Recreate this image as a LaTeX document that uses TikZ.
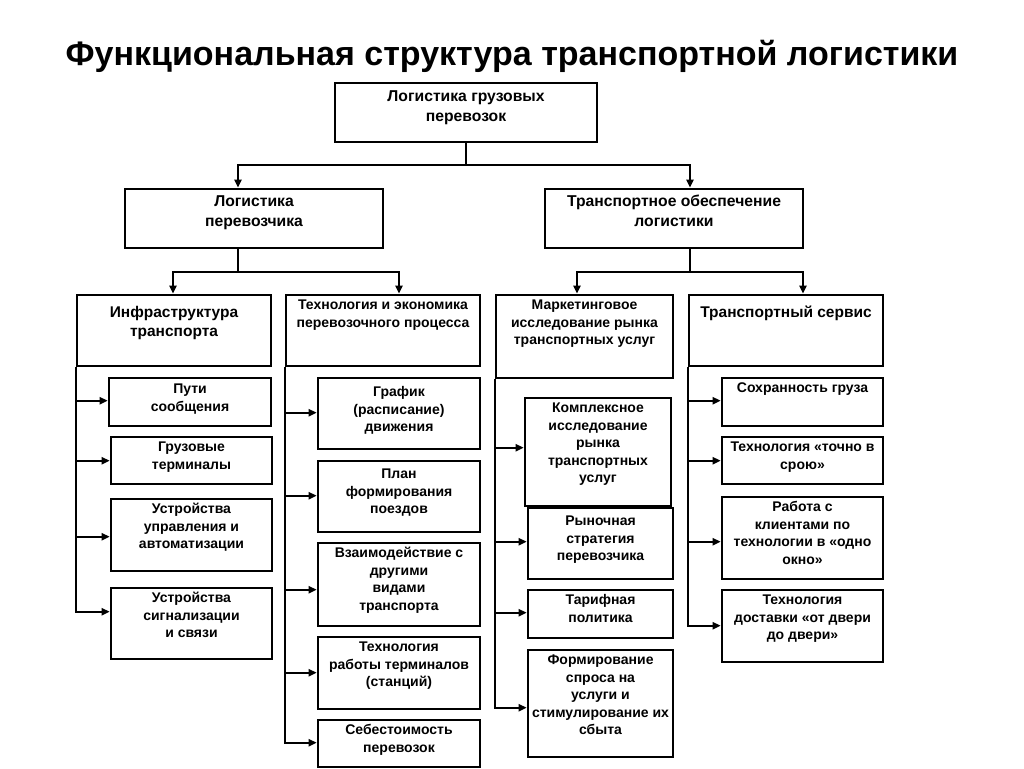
\documentclass[tikz,border=0pt]{standalone}
\usepackage{fontspec}
\setmainfont{Liberation Sans}
\usetikzlibrary{arrows.meta}
\tikzset{
  box/.style={draw, line width=2.6pt, rectangle, inner sep=0pt},
  lbl/.style={anchor=north, inner sep=0pt, align=center, font=\fontsize{14}{17.5}\selectfont\bfseries},
  lblbig/.style={font=\fontsize{15.7}{19.5}\selectfont\bfseries},
  lblmid/.style={font=\fontsize{15.5}{18.5}\selectfont\bfseries},
  conn/.style={line width=2pt},
  arr/.style={conn, -{Triangle[length=8pt,width=7pt]}},
}
% \bx[extra label opts]{name}{x1}{y1}{x2}{y2}{extra offset}{text}
\newcommand\bx[8][]{%
  \node[box, minimum width={(#5)-(#3)}, minimum height={(#6)-(#4)},
    label={[lbl,#1,yshift={-3.6pt-(#7)*1pt}]north:{\strut #8}}]
    (#2) at ({((#3)+(#5))/2},{((#4)+(#6))/2}) {};}
\begin{document}
\begin{tikzpicture}[x=1pt,y=-1pt]
\useasboundingbox[fill=white] (0,0) rectangle (1024,768);

\node[anchor=base, inner sep=0pt, font=\fontsize{34}{40}\selectfont\bfseries] (title) at (512,66)
  {Функциональная структура транспортной логистики};

% level 0-1
\bx[lblbig]{top}{335}{83}{597}{142}{2.5}{Логистика грузовых\\перевозок}
\bx[lblbig]{L1}{125}{189}{383}{248}{1.5}{Логистика\\перевозчика}
\bx[lblbig]{R1}{545}{189}{803}{248}{1.5}{Транспортное обеспечение\\логистики}

% level 2
\bx[lblmid]{inf}{77}{295}{271}{366}{7.5}{Инфраструктура\\транспорта}
\bx{tech}{286}{295}{480}{366}{0}{Технология и экономика\\перевозочного процесса}
\bx{mkt}{496}{295}{673}{378}{0}{Маркетинговое\\исследование рынка\\транспортных услуг}
\bx[lblmid]{serv}{689}{295}{883}{366}{7.5}{Транспортный сервис}

% children of inf
\bx{c11}{109}{378}{271}{426}{1}{Пути\\сообщения}
\bx{c12}{111}{437}{272}{484}{0}{Грузовые\\терминалы}
\bx{c13}{111}{499}{272}{571}{0}{Устройства\\управления и\\автоматизации}
\bx{c14}{111}{588}{272}{659}{0}{Устройства\\сигнализации\\и связи}

% children of tech
\bx{c21}{318}{378}{480}{449}{4}{График\\(расписание)\\движения}
\bx{c22}{318}{461}{480}{532}{3}{План\\формирования\\поездов}
\bx{c23}{318}{543}{480}{626}{0}{Взаимодействие с\\другими\\видами\\транспорта}
\bx{c24}{318}{637}{480}{709}{0}{Технология\\работы терминалов\\(станций)}
\bx{c25}{318}{720}{480}{767}{0}{Себестоимость\\перевозок}

% children of mkt
\bx{c31}{525}{398}{671}{506}{0}{Комплексное\\исследование\\рынка\\транспортных\\услуг}
\bx{c32}{528}{508}{673}{579}{3}{Рыночная\\стратегия\\перевозчика}
\bx{c33}{528}{590}{673}{638}{0}{Тарифная\\политика}
\bx{c34}{528}{650}{673}{757}{0}{Формирование\\спроса на\\услуги и\\стимулирование их\\сбыта}

% children of serv
\bx{c41}{722}{378}{883}{426}{0}{Сохранность груза}
\bx{c42}{722}{437}{883}{484}{0}{Технология «точно в\\срою»}
\bx{c43}{722}{497}{883}{579}{0}{Работа с\\клиентами по\\технологии в «одно\\окно»}
\bx{c44}{722}{590}{883}{662}{0}{Технология\\доставки «от двери\\до двери»}

% junction levels
\coordinate (h0) at (466,165);
\coordinate (h1) at (238,272);
\coordinate (h2) at (690,272);

% top connectors
\draw[conn] (top.south) -- (top.south |- h0);
\draw[arr] (top.south |- h0) -| ([xshift=-16pt]L1.north);
\draw[arr] (top.south |- h0) -| ([xshift=16pt]R1.north);

\draw[conn] ([xshift=-16pt]L1.south) -- (h1);
\draw[arr] (h1) -| ([xshift=-1pt]inf.north);
\draw[arr] (h1) -| ([xshift=16pt]tech.north);

\draw[conn] ([xshift=16pt]R1.south) -- (h2);
\draw[arr] (h2) -| ([xshift=-7.5pt]mkt.north);
\draw[arr] (h2) -| ([xshift=17pt]serv.north);

% branch arrows
\draw[arr] (inf.south west) |- ([shift={(0,24)}]c11.north west);
\draw[arr] (inf.south west) |- ([shift={(0,25)}]c12.north west);
\draw[arr] (inf.south west) |- ([shift={(0,39)}]c13.north west);
\draw[arr] (inf.south west) |- ([shift={(0,25)}]c14.north west);

\draw[arr] (tech.south west) |- ([shift={(0,36)}]c21.north west);
\draw[arr] (tech.south west) |- ([shift={(0,36)}]c22.north west);
\draw[arr] (tech.south west) |- ([shift={(0,48)}]c23.north west);
\draw[arr] (tech.south west) |- ([shift={(0,37)}]c24.north west);
\draw[arr] (tech.south west) |- ([shift={(0,24)}]c25.north west);

\draw[arr] (mkt.south west) |- ([shift={(0,51)}]c31.north west);
\draw[arr] (mkt.south west) |- ([shift={(0,35)}]c32.north west);
\draw[arr] (mkt.south west) |- ([shift={(0,24)}]c33.north west);
\draw[arr] (mkt.south west) |- ([shift={(0,59)}]c34.north west);

\draw[arr] (serv.south west) |- ([shift={(0,24)}]c41.north west);
\draw[arr] (serv.south west) |- ([shift={(0,25)}]c42.north west);
\draw[arr] (serv.south west) |- ([shift={(0,46)}]c43.north west);
\draw[arr] (serv.south west) |- ([shift={(0,37)}]c44.north west);
\end{tikzpicture}
\end{document}
